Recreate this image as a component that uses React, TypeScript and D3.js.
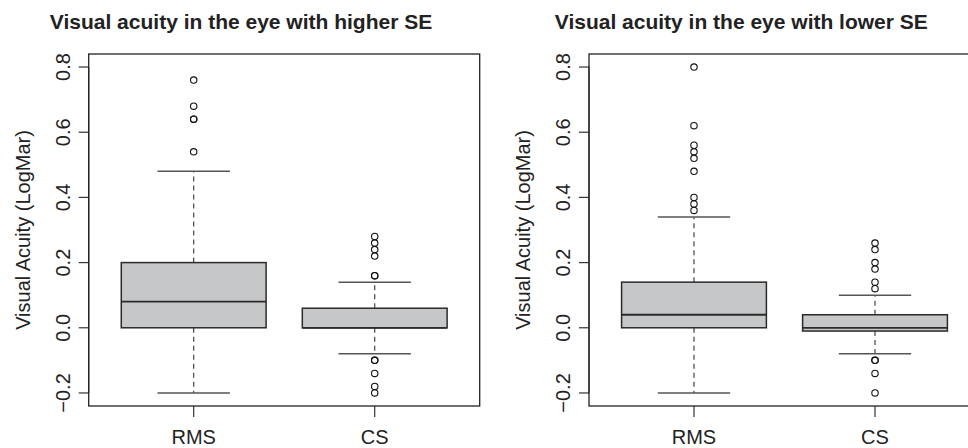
import React, { useRef, useEffect } from 'react';
import * as d3 from 'd3';

const categories = ['RMS', 'CS'];
const titles = ['Visual acuity in the eye with higher SE', 'Visual acuity in the eye with lower SE'];
const yLabel = 'Visual Acuity (LogMar)';
const yTicks = [-0.2, 0, 0.2, 0.4, 0.6, 0.8];

// [lower whisker, Q1, median, Q3, upper whisker]
const higherRMS = [-0.2, 0, 0.08, 0.2, 0.48];
const higherCS = [-0.08, 0, 0, 0.06, 0.14];
const higherRMSOut = [0.54, 0.64, 0.64, 0.68, 0.76];
const higherCSOut = [-0.2, -0.18, -0.14, -0.1, -0.1, 0.16, 0.16, 0.22, 0.24, 0.26, 0.28];

const lowerRMS = [-0.2, 0, 0.04, 0.14, 0.34];
const lowerCS = [-0.08, -0.01, 0, 0.04, 0.1];
const lowerRMSOut = [0.36, 0.38, 0.4, 0.48, 0.52, 0.54, 0.56, 0.62, 0.8];
const lowerCSOut = [-0.2, -0.14, -0.1, -0.1, 0.12, 0.14, 0.18, 0.2, 0.24, 0.26];

const panels = [
  { title: titles[0], stats: [higherRMS, higherCS], outliers: [higherRMSOut, higherCSOut] },
  { title: titles[1], stats: [lowerRMS, lowerCS], outliers: [lowerRMSOut, lowerCSOut] },
];

const W = 968;
const H = 448;
const FONT = 'Liberation Sans, Arial, Helvetica, sans-serif';

const App = () => {
  const svgRef = useRef<SVGSVGElement>(null);

  useEffect(() => {
    const svg = d3.select(svgRef.current);
    svg.selectAll('*').remove();

    const plotTop = 54;
    const plotBottom = 406;
    const plotW = 391;

    const y = d3.scaleLinear().domain([-0.24, 0.84]).range([plotBottom, plotTop]);
    const fmt = d3.format('.1f');

    panels.forEach((p, i) => {
      const ox = i * 500.3;
      const left = ox + 88.7;
      const x = d3.scaleLinear().domain([0.42, 2.58]).range([left, left + plotW]);
      const g = svg.append('g');

      // title
      g.append('text')
        .attr('x', ox + 241)
        .attr('y', 29)
        .attr('text-anchor', 'middle')
        .attr('font-family', FONT)
        .attr('font-weight', 'bold')
        .attr('font-size', 21)
        .attr('fill', '#222')
        .text(p.title);

      // y label
      g.append('text')
        .attr('transform', `translate(${left - 59},${(plotTop + plotBottom) / 2}) rotate(-90)`)
        .attr('text-anchor', 'middle')
        .attr('font-family', FONT)
        .attr('font-size', 20)
        .attr('fill', '#222')
        .text(yLabel);

      // y ticks
      const yt = g.append('g');
      yt.append('line')
        .attr('x1', left).attr('x2', left)
        .attr('y1', y(yTicks[0])).attr('y2', y(yTicks[yTicks.length - 1]))
        .attr('stroke', '#333').attr('stroke-width', 1.2);
      yt.selectAll('line.tick')
        .data(yTicks)
        .join('line')
        .attr('class', 'tick')
        .attr('x1', left - 10).attr('x2', left)
        .attr('y1', (d) => y(d)).attr('y2', (d) => y(d))
        .attr('stroke', '#333').attr('stroke-width', 1.2);
      yt.selectAll('text')
        .data(yTicks)
        .join('text')
        .attr('transform', (d) => `translate(${left - 19},${y(d)}) rotate(-90)`)
        .attr('text-anchor', 'middle')
        .attr('font-family', FONT)
        .attr('font-size', 20)
        .attr('fill', '#222')
        .text((d) => fmt(d));

      // x ticks
      categories.forEach((c, k) => {
        const cx = x(k + 1);
        g.append('line')
          .attr('x1', cx).attr('x2', cx)
          .attr('y1', plotBottom).attr('y2', plotBottom + 11)
          .attr('stroke', '#333').attr('stroke-width', 1.2);
        g.append('text')
          .attr('x', cx)
          .attr('y', 443.5)
          .attr('text-anchor', 'middle')
          .attr('font-family', FONT)
          .attr('font-size', 20)
          .attr('fill', '#222')
          .text(c);
      });

      // boxes
      p.stats.forEach((s, k) => {
        const cx = x(k + 1);
        const bw = x(k + 1.4) - x(k + 1);
        const cw = x(k + 1.2) - x(k + 1);
        const [lo, q1, med, q3, hi] = s;

        // whiskers
        g.append('line')
          .attr('x1', cx).attr('x2', cx)
          .attr('y1', y(q3)).attr('y2', y(hi))
          .attr('stroke', '#444').attr('stroke-width', 1.2)
          .attr('stroke-dasharray', '5,4');
        g.append('line')
          .attr('x1', cx).attr('x2', cx)
          .attr('y1', y(q1)).attr('y2', y(lo))
          .attr('stroke', '#444').attr('stroke-width', 1.2)
          .attr('stroke-dasharray', '5,4');
        [lo, hi].forEach((v) => {
          g.append('line')
            .attr('x1', cx - cw).attr('x2', cx + cw)
            .attr('y1', y(v)).attr('y2', y(v))
            .attr('stroke', '#555').attr('stroke-width', 1.5);
        });

        g.append('rect')
          .attr('x', cx - bw)
          .attr('y', y(q3))
          .attr('width', bw * 2)
          .attr('height', y(q1) - y(q3))
          .attr('fill', '#c6c7c8')
          .attr('stroke', '#2a2a2a')
          .attr('stroke-width', 1.5);
        g.append('line')
          .attr('x1', cx - bw).attr('x2', cx + bw)
          .attr('y1', y(med)).attr('y2', y(med))
          .attr('stroke', '#2a2a2a').attr('stroke-width', 1.8);

        g.selectAll(`circle.o${k}`)
          .data(p.outliers[k])
          .join('circle')
          .attr('class', `o${k}`)
          .attr('cx', cx)
          .attr('cy', (d) => y(d))
          .attr('r', 3.2)
          .attr('fill', 'none')
          .attr('stroke', '#111')
          .attr('stroke-width', 1.1);
      });

      // frame
      g.append('rect')
        .attr('x', left)
        .attr('y', plotTop)
        .attr('width', plotW)
        .attr('height', plotBottom - plotTop)
        .attr('fill', 'none')
        .attr('stroke', '#222')
        .attr('stroke-width', 1.3);
    });
  }, []);

  return (
    <svg
      ref={svgRef}
      width={W}
      height={H}
      style={{ position: 'absolute', left: 0, top: 0, background: '#fff' }}
    />
  );
};

export default App;
